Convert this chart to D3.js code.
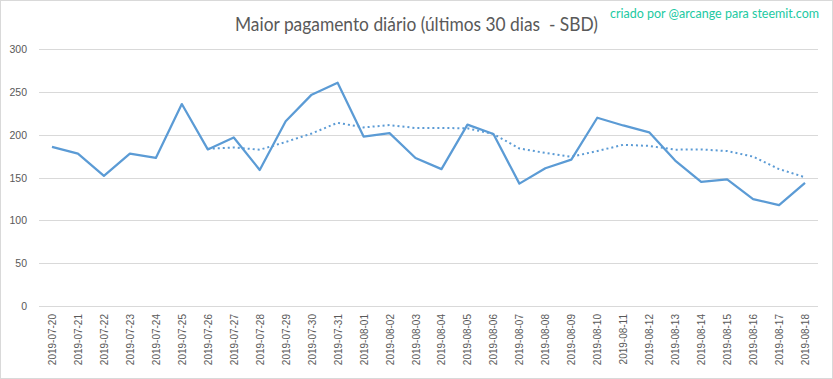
<!DOCTYPE html>
<html><head><meta charset="utf-8">
<script src="https://cdn.jsdelivr.net/npm/d3@7"></script>
<style>body{margin:0;background:#fff}svg{display:block}</style>
</head><body>
<svg id="c" width="833" height="379"></svg>
<script>
const dates = ["2019-07-20","2019-07-21","2019-07-22","2019-07-23","2019-07-24","2019-07-25","2019-07-26","2019-07-27","2019-07-28","2019-07-29","2019-07-30","2019-07-31","2019-08-01","2019-08-02","2019-08-03","2019-08-04","2019-08-05","2019-08-06","2019-08-07","2019-08-08","2019-08-09","2019-08-10","2019-08-11","2019-08-12","2019-08-13","2019-08-14","2019-08-15","2019-08-16","2019-08-17","2019-08-18"];
const payouts = [186,178,152,178,173,236,183,197,159,216,247,261,198,202,173,160,212,201,143,161,171,220,211,203,170,145,148,125,118,144];
// dotted trend line (moving average); starts at 2019-07-26
const trend = [null,null,null,null,null,null,183.7,185.3,182.6,191.7,201.6,214.1,208.7,211.4,208,208.1,207.6,201,184.1,178.9,174.4,181.1,188.4,187.1,182.7,183,181.1,174.6,160,150.4];
const yTicks = [0,50,100,150,200,250,300];
const title = "Maior pagamento diário (últimos 30 dias  - SBD)";
const credit = "criado por @arcange para steemit.com";

const svg = d3.select("#c");
const W = 833, H = 379;
svg.append("rect").attr("x",0.5).attr("y",0.5).attr("width",W-1).attr("height",H-1)
  .attr("fill","#fff").attr("stroke","#D9D9D9");

const x = d3.scalePoint().domain(dates).range([39,818]).padding(0.5);
const y = d3.scaleLinear().domain([0,300]).range([306,49.3]);

// gridlines
svg.append("g").selectAll("line").data(yTicks).join("line")
  .attr("x1",39).attr("x2",818)
  .attr("y1",d=>Math.round(y(d))+0.5).attr("y2",d=>Math.round(y(d))+0.5)
  .attr("stroke","#D9D9D9").attr("stroke-width",1);

// y axis labels
const ya = svg.append("g").attr("transform","translate(39,0)")
  .call(d3.axisLeft(y).tickValues(yTicks).tickSize(0).tickPadding(12).tickFormat(d3.format("d")));
ya.select(".domain").remove();
ya.selectAll("text").attr("fill","#595959").attr("font-family","Liberation Sans, Arial, sans-serif").attr("font-size","10.5px");

// x axis labels
const xa = svg.append("g").attr("transform","translate(0,306)")
  .call(d3.axisBottom(x).tickSize(0).tickPadding(0));
xa.select(".domain").remove();
xa.selectAll("text")
  .attr("fill","#595959").attr("font-family","Liberation Sans, Arial, sans-serif").attr("font-size","10px")
  .attr("text-anchor","end").attr("transform","translate(0,8) rotate(-90)")
  .attr("x",0).attr("y",0).attr("dy","0.35em");

// trend line
const tLine = d3.line().defined(d=>d[1]!=null).x(d=>x(d[0])).y(d=>y(d[1]));
svg.append("path").datum(dates.map((d,i)=>[d,trend[i]]))
  .attr("d",tLine).attr("fill","none").attr("stroke","#5B9BD5")
  .attr("stroke-width",2).attr("stroke-dasharray","2,3");

// main line
const line = d3.line().x(d=>x(d[0])).y(d=>y(d[1]));
svg.append("path").datum(dates.map((d,i)=>[d,payouts[i]]))
  .attr("d",line).attr("fill","none").attr("stroke","#5B9BD5")
  .attr("stroke-width",2.25).attr("stroke-linejoin","round");

// title
svg.append("text").attr("x",416.5).attr("y",31).attr("text-anchor","middle")
  .style("white-space","pre")
  .attr("font-family","Lato, 'Open Sans', sans-serif").attr("font-size","18.5px").attr("fill","#595959")
  .attr("textLength",363).attr("lengthAdjust","spacingAndGlyphs").text(title);

// credit
svg.append("text").attr("x",819).attr("y",18).attr("text-anchor","end")
  .attr("font-family","Lato, 'Open Sans', sans-serif").attr("font-size","12.5px").attr("fill","#22C9A2")
  .attr("textLength",209).attr("lengthAdjust","spacingAndGlyphs").text(credit);
</script>
</body></html>
